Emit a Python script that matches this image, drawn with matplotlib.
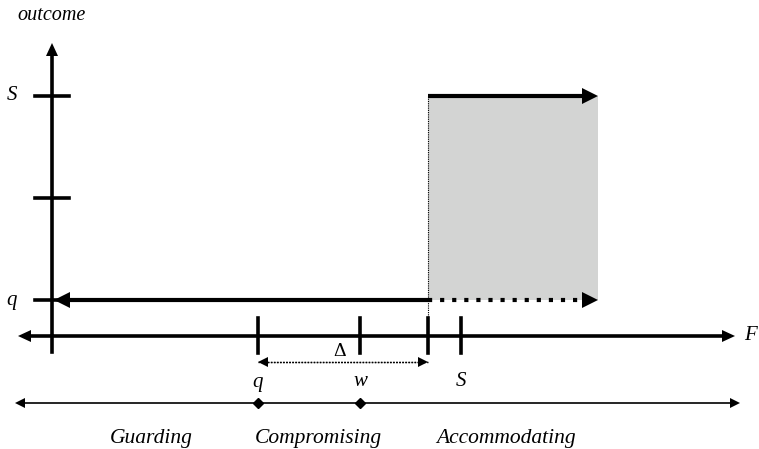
import matplotlib.pyplot as plt
from matplotlib.patches import Rectangle, Polygon
import numpy as np

plt.rcParams['font.family'] = ['Liberation Serif', 'DejaVu Serif']

# positions on the F axis (pixel-like units)
f_origin = 52
f_ticks = [258, 360, 428, 461]        # q, w, q+delta, S
f_tick_labels = ['q', 'w', '', 'S']
f_end = 598
# outcome levels
y_ticks = [300, 198, 96]              # q, middle, S
y_tick_labels = ['q', '', 'S']
axis_y = 336
# bottom strategy line
strategy_marks = [258, 360]
strategy_names = ['Guarding', 'Compromising', 'Accommodating']
strategy_name_x = [151, 318, 506]

fig = plt.figure(figsize=(7.59, 4.49), dpi=100)
ax = fig.add_axes([0, 0, 1, 1])
ax.set_xlim(0, 759)
ax.set_ylim(449, 0)
ax.axis('off')

def arrow(x0, y0, x1, y1, lw=2.6, ls='-', hl=13, hw=6):
    d = np.array([x1 - x0, y1 - y0], dtype=float)
    d /= np.hypot(*d)
    n = np.array([-d[1], d[0]])
    tip = np.array([x1, y1], dtype=float)
    base = tip - d * hl
    ax.plot([x0, base[0] + d[0]], [y0, base[1] + d[1]], color='black', lw=lw,
            linestyle=ls, solid_capstyle='butt', dash_capstyle='butt')
    ax.add_patch(Polygon([tip, base + n * hw, base - n * hw], closed=True,
                         facecolor='black', edgecolor='none', zorder=3))

# shaded region
ax.add_patch(Rectangle((f_ticks[2], y_ticks[2]), f_end - f_ticks[2], y_ticks[0] - y_ticks[2],
                       facecolor='#d3d4d3', edgecolor='none', zorder=0))

# axes
arrow(f_origin, axis_y, f_origin, 43, hl=13, hw=6)
arrow(f_origin, axis_y, 18, axis_y, hl=13, hw=6)
arrow(f_origin, axis_y, 735, axis_y, hl=13, hw=6)
ax.plot([f_origin, f_origin], [axis_y, 352], color='black', lw=2.6)

# y ticks
for y, lab in zip(y_ticks, y_tick_labels):
    ax.plot([35, 69], [y, y], color='black', lw=2.6)
    if lab:
        ax.text(12, y, lab, fontsize=15, style='italic', ha='center', va='center')

# F ticks
for x, lab in zip(f_ticks, f_tick_labels):
    ax.plot([x, x], [318, 353], color='black', lw=2.6)
    if lab:
        ax.text(x, 382, lab, fontsize=15, style='italic', ha='center', va='center')

# delta
arrow(f_ticks[2], 362, f_ticks[0], 362, lw=1.0, ls=(0, (1, 1.2)), hl=10, hw=5)
arrow(f_ticks[0], 362, f_ticks[2], 362, lw=1.0, ls=(0, (1, 1.2)), hl=10, hw=5)
ax.text(340, 351, 'Δ', fontsize=14, ha='center', va='center')

# outcome lines
arrow(f_ticks[2], y_ticks[0], 54, y_ticks[0], lw=3.0, hl=16, hw=8)
arrow(f_ticks[2], y_ticks[0], f_end, y_ticks[0], lw=3.0, ls=(0, (1, 1.9)), hl=16, hw=8)
arrow(f_ticks[2], y_ticks[2], f_end, y_ticks[2], lw=3.0, hl=16, hw=8)
ax.plot([f_ticks[2], f_ticks[2]], [y_ticks[2], 318], color='black', lw=0.8, ls=(0, (1, 1)))

# labels
ax.text(52, 15, 'outcome', fontsize=14.5, style='italic', ha='center', va='center')
ax.text(750, 336, 'F', fontsize=15, style='italic', ha='center', va='center')

# strategy line
arrow(380, 403, 15, 403, lw=1.2, hl=10, hw=5)
arrow(380, 403, 740, 403, lw=1.2, hl=10, hw=5)
ax.plot(strategy_marks, [403] * len(strategy_marks), 'D', color='black', ms=5)
for x, name in zip(strategy_name_x, strategy_names):
    ax.text(x, 438, name, fontsize=15.5, style='italic', ha='center', va='center')

fig.savefig('out.png', dpi=100)
